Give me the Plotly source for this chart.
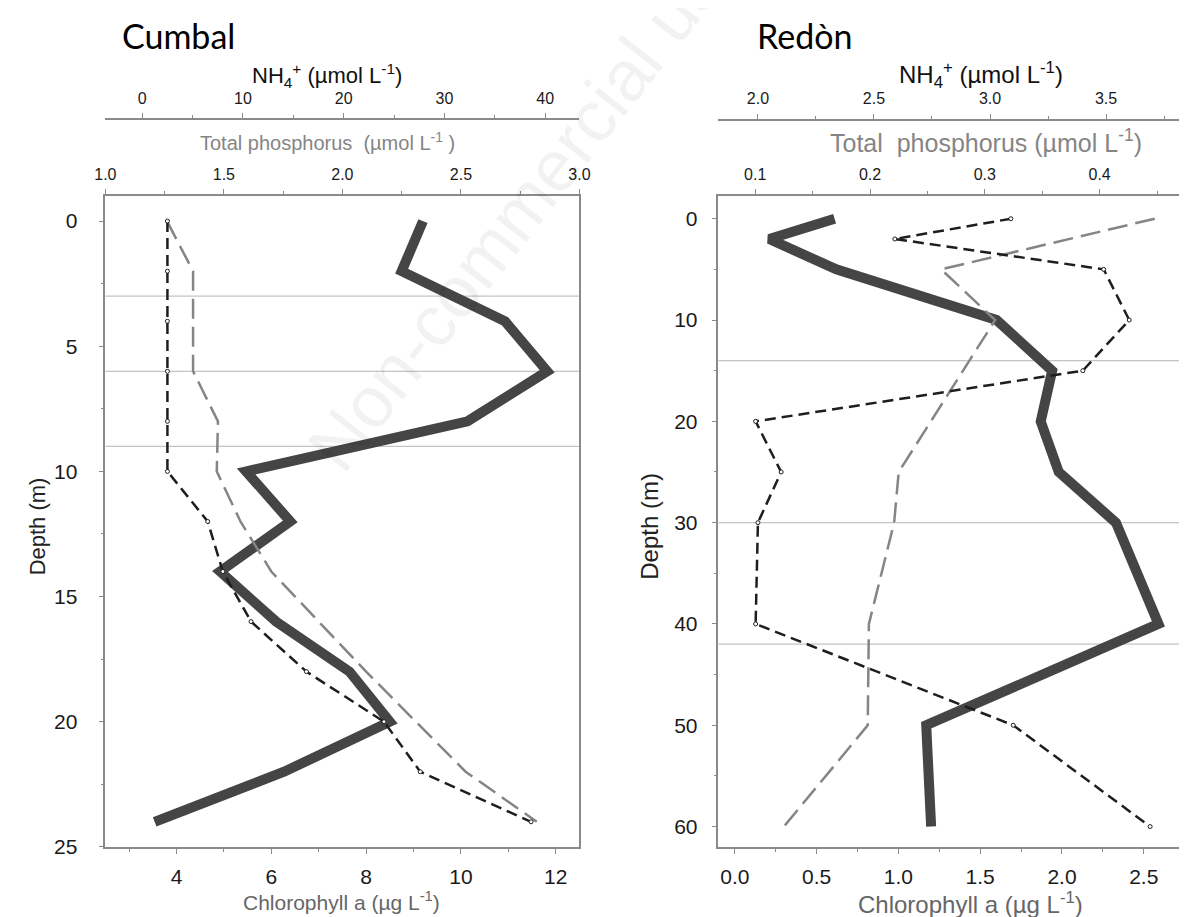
import plotly.graph_objects as go

W, H = 1187, 917

# ---------------- data ----------------
# Cumbal
cumbal_depth = [0, 2, 4, 6, 8, 10, 12, 14, 16, 18, 20, 22, 24]
cumbal_chl = [9.2, 8.75, 10.93, 11.82, 10.14, 5.47, 6.4, 4.92, 6.1, 7.65, 8.5, 6.27, 3.54]
cumbal_tp = [1.26, 1.37, 1.37, 1.37, 1.475, 1.47, 1.57, 1.70, 1.90, 2.10, 2.31, 2.52, 2.82]
cumbal_nh4 = [2.5, 2.5, 2.5, 2.5, 2.5, 2.5, 6.5, 8.0, 10.8, 16.3, 24.0, 27.6, 38.6]
cumbal_layers = [3, 6, 9]

# Redòn
redon_depth = [0, 2, 5, 10, 15, 20, 25, 30, 40, 50, 60]
redon_chl = [0.61, 0.21, 0.62, 1.60, 1.94, 1.87, 1.98, 2.33, 2.59, 1.17, 1.20]
redon_nh4 = [3.09, 2.59, 3.49, 3.60, 3.40, 1.99, 2.10, 2.00, 1.99, 3.10, 3.69]
redon_tp_depth = [0, 5, 10, 25, 30, 40, 50, 60]
redon_tp = [0.448, 0.262, 0.309, 0.225, 0.221, 0.199, 0.198, 0.125]
redon_layers = [14, 30, 42]

# ---------------- helpers ----------------
def px(x):
    return x / W

def py(y):
    return 1 - y / H

FONT = "Liberation Sans, Arial, sans-serif"
AX = "#8a8a8a"
CHL_C = "#454545"
NH4_C = "#1e1e1e"
TP_C = "#858585"

Y_DOM = [py(849), py(190)]
L_DOM = [px(88), px(571)]
R_DOM = [px(712.7), 1.0]

fig = go.Figure()

def add_panel(depth, chl, tp_depth, tp, nh4, xa, xtp, xnh, ya):
    fig.add_trace(go.Scatter(x=chl, y=depth, xaxis=xa, yaxis=ya, mode="lines",
                             line=dict(color=CHL_C, width=10), showlegend=False))
    fig.add_trace(go.Scatter(x=tp, y=tp_depth, xaxis=xtp, yaxis=ya, mode="lines",
                             line=dict(color=TP_C, width=2.5, dash="20px,8px"), showlegend=False))
    fig.add_trace(go.Scatter(x=nh4, y=depth, xaxis=xnh, yaxis=ya, mode="lines+markers",
                             line=dict(color=NH4_C, width=2.5, dash="11px,6px"),
                             marker=dict(size=4, color="white", line=dict(color=NH4_C, width=1)),
                             showlegend=False))

add_panel(cumbal_depth, cumbal_chl, cumbal_depth, cumbal_tp, cumbal_nh4, "x", "x3", "x5", "y")
add_panel(redon_depth, redon_chl, redon_tp_depth, redon_tp, redon_nh4, "x2", "x4", "x6", "y2")

# layer boundary lines
shapes = []
for d in cumbal_layers:
    shapes.append(dict(type="line", xref="x domain", x0=0, x1=1, yref="y", y0=d, y1=d,
                       line=dict(color="#c4c4c4", width=1.2), layer="below"))
for d in redon_layers:
    shapes.append(dict(type="line", xref="x2 domain", x0=0, x1=1, yref="y2", y0=d, y1=d,
                       line=dict(color="#c4c4c4", width=1.2), layer="below"))

common_axis = dict(showline=True, linecolor=AX, linewidth=1.5, ticks="outside",
                   ticklen=5, tickcolor=AX, tickwidth=1.2, showgrid=False, zeroline=False)

big_tick = dict(family=FONT, size=21, color="#1a1a1a")
small_tick = dict(family=FONT, size=16, color="#1a1a1a")

fig.update_layout(
    width=W, height=H,
    margin=dict(l=0, r=0, t=0, b=0),
    paper_bgcolor="white", plot_bgcolor="white",
    shapes=shapes,
    # left panel
    xaxis=dict(domain=L_DOM, range=[2.5, 12.5], anchor="y", side="bottom", dtick=2, tick0=0,
               minor=dict(dtick=1, tick0=0, ticks="outside", ticklen=3, tickcolor=AX),
               tickfont=big_tick, ticklabelstandoff=5, **common_axis),
    xaxis3=dict(overlaying="x", range=[1.0, 3.0], anchor="y", side="top", dtick=0.5, tick0=0,
                tickformat=".1f", minor=dict(dtick=0.25, tick0=0, ticks="outside", ticklen=3, tickcolor=AX),
                tickfont=small_tick, ticklabelstandoff=3, **common_axis),
    xaxis5=dict(overlaying="x", range=[-3.66, 43.4], anchor="free", position=py(112), side="top",
                dtick=10, tick0=0,
                minor=dict(dtick=5, tick0=0, ticks="outside", ticklen=3, tickcolor=AX),
                tickfont=small_tick, ticklabelstandoff=3, **common_axis),
    yaxis=dict(domain=Y_DOM, range=[25.0, -1.015], anchor="x", dtick=5, tick0=0, mirror=True,
               minor=dict(dtick=2.5, tick0=0, ticks="outside", ticklen=3, tickcolor=AX),
               tickfont=big_tick, ticklabelstandoff=17, **common_axis),
    # right panel
    xaxis2=dict(domain=R_DOM, range=[-0.1, 2.746], anchor="y2", side="bottom", dtick=0.5, tick0=0,
                tickformat=".1f", minor=dict(dtick=0.25, tick0=0, ticks="outside", ticklen=3, tickcolor=AX),
                tickfont=big_tick, ticklabelstandoff=5, **common_axis),
    xaxis4=dict(overlaying="x2", range=[0.068, 0.4735], anchor="y2", side="top", dtick=0.1, tick0=0,
                tickformat=".1f", minor=dict(dtick=0.05, tick0=0, ticks="outside", ticklen=3, tickcolor=AX),
                tickfont=small_tick, ticklabelstandoff=3, **common_axis),
    xaxis6=dict(overlaying="x2", range=[1.83, 3.836], anchor="free", position=py(113), side="top",
                dtick=0.5, tick0=0, tickformat=".1f",
                minor=dict(dtick=0.25, tick0=0, ticks="outside", ticklen=3, tickcolor=AX),
                tickfont=small_tick, ticklabelstandoff=3, **common_axis),
    yaxis2=dict(domain=Y_DOM, range=[62.0, -2.27], anchor="x2", dtick=10, tick0=0,
                minor=dict(dtick=5, tick0=0, ticks="outside", ticklen=3, tickcolor=AX),
                tickfont=big_tick, ticklabelstandoff=10, **common_axis),
)

ann = []
def text(x, y, s, size, color="#111", family=FONT, xanchor="center", angle=0):
    ann.append(dict(x=px(x), y=py(y), xref="paper", yref="paper", text=s, showarrow=False,
                    xanchor=xanchor, yanchor="middle", textangle=angle,
                    font=dict(family=family, size=size, color=color)))

# watermark
ann.append(dict(x=px(565), y=py(135), xref="paper", yref="paper", text="Non-commercial use only",
                showarrow=False, textangle=-52, xanchor="center", yanchor="middle",
                font=dict(family=FONT, size=72, color="rgba(0,0,0,0.05)")))

TITLE_FONT = "Lato, Open Sans, sans-serif"
text(103, 28, "Cumbal", 34, "#000", TITLE_FONT, xanchor="left")
text(750, 28, "Redòn", 34, "#000", TITLE_FONT, xanchor="left")
text(314, 68, "NH<sub>4</sub><sup>+</sup> (µmol L<sup>-1</sup>)", 22, "#111")
text(980, 68, "NH<sub>4</sub><sup>+</sup> (µmol L<sup>-1</sup>)", 24, "#111")
text(314, 135, "Total phosphorus  (µmol L<sup>-1</sup> )", 20, "#858585")
text(985, 135, "Total  phosphorus (µmol L<sup>-1</sup>)", 25, "#858585")
text(329, 904, "Chlorophyll a (µg L<sup>-1</sup>)", 21, "#666")
text(969, 906, "Chlorophyll a (µg L<sup>-1</sup>)", 24, "#666")
text(19, 525, "Depth (m)", 22, "#222", angle=-90)
text(643, 525, "Depth (m)", 24, "#222", angle=-90)

fig.update_layout(annotations=ann)
fig.write_html("out.html")
